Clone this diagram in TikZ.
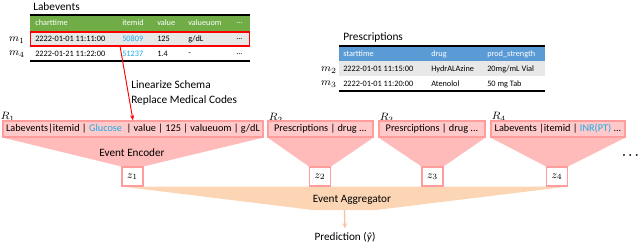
\documentclass[tikz,border=0pt]{standalone}
\usepackage{fontspec}
\setmainfont{Carlito}
\usetikzlibrary{arrows.meta,backgrounds}

\definecolor{labgreen}{HTML}{70AD47}
\definecolor{presblue}{HTML}{5B9BD5}
\definecolor{rowgray}{HTML}{E8E8E8}
\definecolor{codeblue}{HTML}{1CACE8}
\definecolor{boxfill}{HTML}{FFC9C9}
\definecolor{boxline}{HTML}{FF9C9C}
\definecolor{encfill}{HTML}{FFBABA}
\definecolor{aggfill}{HTML}{FCD5B5}
\definecolor{aggline}{HTML}{F8C4A0}

\begin{document}
\begin{tikzpicture}[x=0.75pt, y=-0.75pt,
  tabtitle/.style={anchor=west, inner sep=0pt, font=\fontsize{8.5}{10}\selectfont},
  cell/.style={anchor=west, inner sep=0pt, font=\fontsize{6.2}{7}\selectfont},
  headcell/.style={cell, text=white},
  mathlab/.style={inner sep=0pt, font=\fontsize{8.5}{10}\selectfont},
  recbox/.style={draw=boxline, fill=boxfill, line width=0.8pt, minimum height=12pt, inner sep=0pt, font=\fontsize{7.7}{9}\selectfont},
  zbox/.style={draw=boxline, fill=white, line width=0.8pt, minimum width=15.75pt, minimum height=14.25pt, inner sep=0pt, font=\fontsize{8.5}{10}\selectfont},
  plain/.style={inner sep=0pt, font=\fontsize{8.4}{10}\selectfont}]
\clip (0,0) rectangle (640,243);

% Labevents table
\node[tabtitle] (labtitle) at (33,7) {Labevents};
\fill[labgreen] (30,15) rectangle (250,31);
\draw[line width=1.4pt] (30,15) -- (250,15);
\node[draw=red, fill=rowgray, line width=0.9pt, minimum width=164pt, minimum height=10.5pt, inner sep=0pt] (m1row) at (140,39) {};
\draw[line width=1.2pt] (30,61) -- (250,61);
\node[headcell] at (35,23) {charttime};
\node[headcell] at (122,23) {itemid};
\node[headcell] at (157,23) {value};
\node[headcell] at (188,23) {valueuom};
\node[headcell] at (236,23) {...};
\node[cell] at (35,39) {2222-01-01 11:11:00};
\node[cell, text=codeblue] at (122,39) {50809};
\node[cell] at (157,39) {125};
\node[cell] at (188,39) {g/dL};
\node[cell] at (236,39) {...};
\node[cell] at (35,54) {2222-01-21 11:22:00};
\node[cell, text=codeblue] at (122,54) {51237};
\node[cell] at (157,54) {1.4};
\node[cell] at (188,54) {-};
\node[cell] at (236,54) {...};
\node[mathlab] (m1) at (17,40) {$m_1$};
\node[mathlab] (m4) at (17,54) {$m_4$};

% Prescriptions table
\node[tabtitle] (prestitle) at (343,37) {Prescriptions};
\fill[presblue] (339,46) rectangle (545,61);
\fill[rowgray] (339,61) rectangle (545,76);
\draw[line width=1.4pt] (339,46) -- (545,46);
\draw[line width=1.2pt] (339,91) -- (545,91);
\node[headcell] at (343,54) {starttime};
\node[headcell] at (431,54) {drug};
\node[headcell] at (487,54) {prod\_strength};
\node[cell] at (343,69) {2222-01-01 11:15:00};
\node[cell] at (431,69) {HydrALAzine};
\node[cell] at (487,69) {20mg/mL Vial};
\node[cell] at (343,84) {2222-01-01 11:20:00};
\node[cell] at (431,84) {Atenolol};
\node[cell] at (487,84) {50 mg Tab};
\node[mathlab] (m2) at (329,70) {$m_2$};
\node[mathlab] (m3) at (329,84) {$m_3$};

% Linearized records
\node[mathlab] (R1) at (8,117) {$R_1$};
\node[mathlab] (R2) at (276,118) {$R_2$};
\node[mathlab] (R3) at (387,118) {$R_3$};
\node[mathlab] (R4) at (499,117) {$R_4$};
\node[recbox, minimum width=195pt] (r1) at (133,129) {Labevents|itemid | \textcolor{codeblue}{Glucose}~ | value | 125 | valueuom | g/dL};
\node[recbox, minimum width=78.75pt] (r2) at (320.5,129) {Prescriptions | drug ...};
\node[recbox, minimum width=79.5pt] (r3) at (432,129) {Presrciptions | drug ...};
\node[recbox, minimum width=100.5pt] (r4) at (558,129) {Labevents |itemid | \textcolor{codeblue}{INR(PT)} ...};

% Event embeddings
\node[zbox] (z1) at (132.5,176.5) {$z_1$};
\node[zbox] (z2) at (320,176.5) {$z_2$};
\node[zbox] (z3) at (432.5,176.5) {$z_3$};
\node[zbox] (z4) at (557,176.5) {$z_4$};
\node[plain] (enc) at (132,153) {Event Encoder};
\node[font=\boldmath\fontsize{9}{11}\selectfont, anchor=east, inner sep=0pt] (more) at (639,156) {$\cdots$};

% Aggregation
\coordinate (aggL) at (313,210);
\coordinate (aggR) at (376,210);
\coordinate (aggtip) at (344.5,210);
\node[plain] (agg) at (352,200) {Event Aggregator};
\node[plain] (pred) at (345,237) {Prediction (\textit{ŷ})};

\begin{pgfonlayer}{background}
\fill[encfill] (r1.south west) -- (r1.south east) -- (z1.north east) -- (z1.north west) -- cycle;
\fill[encfill] (r2.south west) -- (r2.south east) -- (z2.north east) -- (z2.north west) -- cycle;
\fill[encfill] (r3.south west) -- (r3.south east) -- (z3.north east) -- (z3.north west) -- cycle;
\fill[encfill] (r4.south west) -- (r4.south east) -- (z4.north east) -- (z4.north west) -- cycle;
\fill[aggfill] (z1.south west) -- (z4.south east) -- (aggR) -- (aggL) -- cycle;
\end{pgfonlayer}

% Arrows
\draw[-{Stealth[length=4pt,width=3pt]}, red, line width=0.7pt] (120,46) coordinate (codesrc) -- (r1.north);
\node[plain, align=left, anchor=west, font=\fontsize{8.5}{11.25}\selectfont] (linz) at (131,92.5) {Linearize Schema\\Replace Medical Codes};
\draw[-{Stealth[length=4pt,width=3.5pt]}, aggline, line width=1pt, shorten >=2.5pt] (aggtip) -- (pred.north);
\end{tikzpicture}
\end{document}
